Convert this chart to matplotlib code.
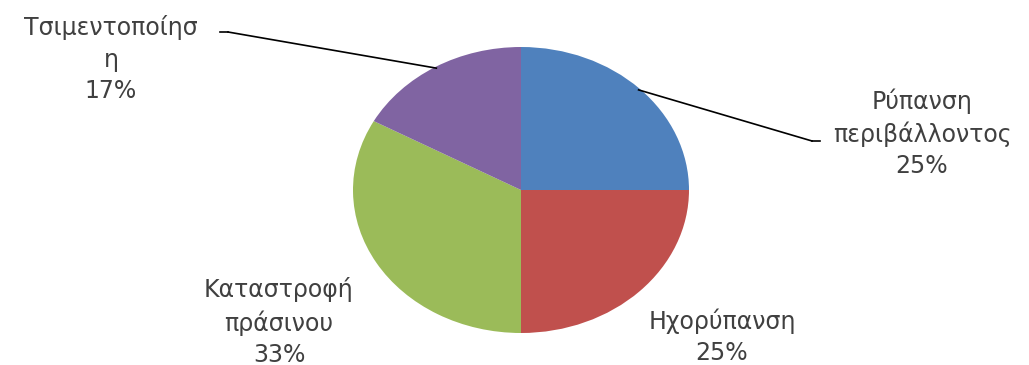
import numpy as np
import matplotlib
matplotlib.use("Agg")
import matplotlib.pyplot as plt

categories = ["Ρύπανση\nπεριβάλλοντος", "Ηχορύπανση", "Καταστροφή\nπράσινου", "Τσιμεντοποίησ\nη"]
values = [25, 25, 33, 17]
colors = ["#4F81BD", "#C0504D", "#9BBB59", "#8064A2"]

W, H = 1029, 365
fig = plt.figure(figsize=(W / 100, H / 100), dpi=100)
ax = fig.add_axes([0, 0, 1, 1])
ax.axis("off")

wedges, _ = ax.pie(values, colors=colors, startangle=90, counterclock=False,
                   radius=1.0, wedgeprops=dict(linewidth=0))
ax.set_aspect("auto")
# pixel geometry: centre (521,190), rx 168, ry 143
cx, cy, rx, ry = 521, 190, 168, 143
ax.set_xlim(-cx / rx, (W - cx) / rx)
ax.set_ylim(-(H - cy) / ry, cy / ry)

def px(x, y):
    return ((x - cx) / rx, (cy - y) / ry)

total = sum(values)
labels = [f"{c}\n{v / total * 100:.0f}%" for c, v in zip(categories, values)]
txtcol = "#404040"
fs = 17

# label positions (pixels) and leader line end points
label_pos = [(922, 133), (722, 337), (279, 322), (111, 59)]
leader = [((640, 90), (812, 141)), None, None, ((440, 68), (228, 32))]

for w, lab, pos, ld in zip(wedges, labels, label_pos, leader):
    tx, ty = px(*pos)
    ax.text(tx, ty, lab, ha="center", va="center", fontsize=fs, color=txtcol,
            linespacing=1.37, family="DejaVu Sans")
    if ld is not None:
        ang = np.deg2rad((w.theta1 + w.theta2) / 2)
        r = 0.99
        p0 = (r * np.cos(ang), r * np.sin(ang))
        p1 = px(*ld[1])
        ax.plot([p0[0], p1[0]], [p0[1], p1[1]], color="black", lw=1.2)
        d = 8 / rx * (1 if p1[0] > p0[0] else -1)
        ax.plot([p1[0], p1[0] + d], [p1[1], p1[1]], color="black", lw=1.2)

fig.savefig("out.png", dpi=100)
